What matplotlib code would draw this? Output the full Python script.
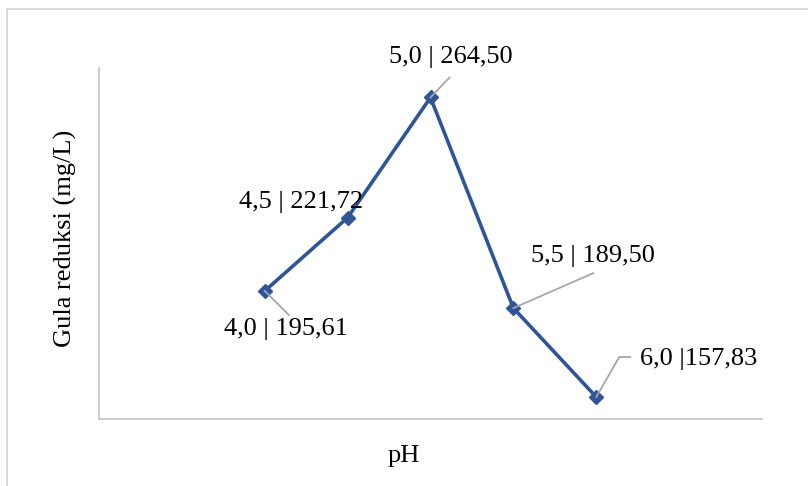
import matplotlib
matplotlib.use("Agg")
import matplotlib.pyplot as plt
import matplotlib.transforms as mtransforms
from matplotlib.lines import Line2D

ph = [4.0, 4.5, 5.0, 5.5, 6.0]
gula = [195.61, 221.72, 264.50, 189.50, 157.83]
labels = ["4,0 | 195,61", "4,5 | 221,72", "5,0 | 264,50", "5,5 | 189,50", "6,0 |157,83"]

# label centre offsets and leader paths, in pixels from the point
label_off = [(21, -38), (-47, 16), (20, 40), (80, 52), (44, 38)]
label_ha = ["center", "center", "center", "center", "left"]
leaders = [
    [(0, 0), (24, -24)],
    None,
    [(0, 0), (19, 20)],
    [(0, 0), (80, 35)],
    [(0, 0), (23, 40), (34, 40)],
]

plt.rcParams["font.family"] = ["Liberation Serif", "DejaVu Serif"]
FS = 19

fig = plt.figure(figsize=(8.08, 4.86), dpi=100)
ax = fig.add_axes([99 / 808, 1 - 419 / 486, (762 - 99) / 808, (419 - 68) / 486])

ax.plot(ph, gula, color="#2f5597", linewidth=2.6, marker="D", markersize=7.5, zorder=3)

ax.set_xlim(3, 7)
ax.set_ylim(150, 275)
ax.set_xticks([])
ax.set_yticks([])
for side in ["top", "right"]:
    ax.spines[side].set_visible(False)
for side in ["left", "bottom"]:
    ax.spines[side].set_color("#c8c8c8")
    ax.spines[side].set_linewidth(1.3)

for x, y, lab, off, ha, lead in zip(ph, gula, labels, label_off, label_ha, leaders):
    ax.annotate(lab, xy=(x, y), xytext=off, textcoords="offset pixels",
                ha=ha, va="center", fontsize=FS, color="black", zorder=5)
    if lead is not None:
        tr = mtransforms.Affine2D() + mtransforms.ScaledTranslation(x, y, ax.transData)
        xs = [p[0] for p in lead]
        ys = [p[1] for p in lead]
        ax.add_line(Line2D(xs, ys, transform=tr, color="#a6a6a6", linewidth=1.3, zorder=4))

fig.text(65 / 808, 1 - 238 / 486, "Gula reduksi (mg/L)", rotation=90,
         ha="center", va="center", fontsize=FS)
fig.text(404 / 808, 1 - 456 / 486, "pH", ha="center", va="center", fontsize=FS)

# outer chart frame (only top and left edges visible in the crop)
fig.add_artist(Line2D([7 / 808, 7 / 808], [0, 1 - 9 / 486], transform=fig.transFigure,
                      color="#d9d9d9", linewidth=1.5))
fig.add_artist(Line2D([7 / 808, 1], [1 - 9 / 486, 1 - 9 / 486], transform=fig.transFigure,
                      color="#d9d9d9", linewidth=1.5))

fig.savefig("out.png", dpi=100)
